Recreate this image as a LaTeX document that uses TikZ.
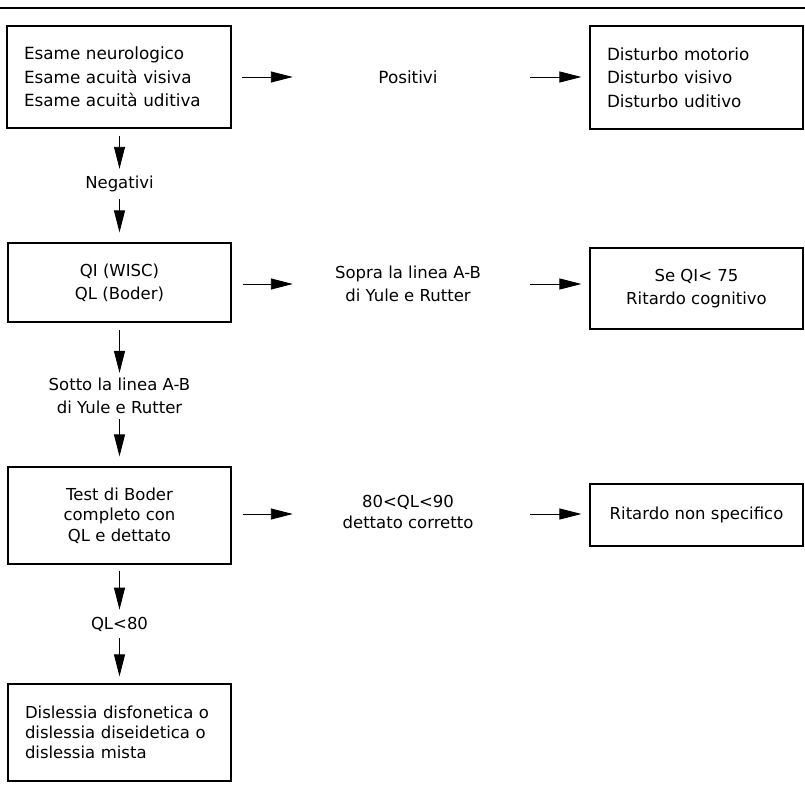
\documentclass[tikz,border=0pt]{standalone}
\usepackage{fontspec}
\setmainfont{DejaVu Sans}
\usetikzlibrary{arrows.meta}
\tikzset{
  boxa/.style={draw, line width=1.1pt, rectangle, inner ysep=0pt},
  lbl/.style={inner sep=0pt, align=center},
  arr/.style={line width=0.9pt, -{Triangle[length=22pt,width=11pt]}},
  fa/.style={font=\fontsize{16.8}{23.5}\selectfont},
  fb/.style={font=\fontsize{16.5}{23}\selectfont},
}
\begin{document}
\begin{tikzpicture}[x=1pt,y=-1pt]
\useasboundingbox (0,0) rectangle (805,791);
\draw[line width=2.6pt] (0,8) -- (805,8);
% row 1
\node[boxa, fa, minimum width=224pt, minimum height=102pt, text width=190pt, inner xsep=17pt, align=left] (b1) at (119,77)
  {Esame neurologico\\Esame acuità visiva\\Esame acuità uditiva};
\node[lbl, fa, minimum width=230pt] (pos) at (408,77) {Positivi};
\node[boxa, fa, minimum width=213pt, minimum height=103pt, text width=179pt, inner xsep=17pt, align=left] (b2) at (696.5,77.5)
  {Disturbo motorio\\Disturbo visivo\\Disturbo uditivo};
\draw[arr, shorten <=10pt] (b1.east |- pos.west) -- (pos.west);
\draw[arr, shorten <=7pt, shorten >=8pt] (pos.east) -- (b2.west |- pos.east);
% negativi
\node[lbl, fb] (neg) at (119.5,184) {Negativi};
\node[boxa, fb, minimum width=223pt, minimum height=79pt, align=center] (qi) at (119.5,282.5)
  {QI (WISC)\\QL (Boder)};
\draw[arr, shorten <=7pt, shorten >=7pt] (b1.south -| neg.north) -- (neg.north);
\draw[arr, shorten <=7pt, shorten >=10pt] (neg.south) -- (qi.north -| neg.south);
% row 2
\node[lbl, fb, minimum width=230pt] (sopra) at (408,284) {Sopra la linea A-B\\di Yule e Rutter};
\node[boxa, fb, minimum width=213pt, minimum height=81pt, align=center] (seqi) at (696.5,288.5)
  {Se QI< 75\\Ritardo cognitivo};
\draw[arr, shorten <=11pt] (qi.east |- sopra.west) -- (sopra.west);
\draw[arr, shorten <=7pt, shorten >=8pt] (sopra.east) -- (seqi.west |- sopra.east);
% sotto
\node[lbl, fb] (sotto) at (119.5,396) {Sotto la linea A-B\\di Yule e Rutter};
\node[boxa, font=\fontsize{16.5}{20.5}\selectfont, minimum width=223pt, minimum height=97pt, align=center] (test) at (119.5,515.5)
  {Test di Boder\\completo con\\QL e dettato};
\draw[arr, shorten <=7pt, shorten >=5pt] (qi.south -| sotto.north) -- (sotto.north);
\draw[arr, shorten <=5pt, shorten >=10pt] (sotto.south) -- (test.north -| sotto.south);
% row 3
\node[lbl, font=\fontsize{16.5}{21}\selectfont, minimum width=230pt] (ql90) at (408,512) {80<QL<90\\dettato corretto};
\node[boxa, fb, minimum width=213pt, minimum height=62pt, align=center] (rit) at (696.5,515) {Ritardo non specifico};
\draw[arr, shorten <=11pt] (test.east |- 0,514) -- (ql90.west |- 0,514);
\draw[arr, shorten <=7pt, shorten >=8pt] (ql90.east |- 0,514) -- (rit.west |- 0,514);
% ql<80
\node[lbl, fb] (ql80) at (119.5,624) {QL<80};
\node[boxa, font=\fontsize{16.5}{20}\selectfont, minimum width=223pt, minimum height=97pt, text width=189pt, inner xsep=17pt, align=left] (dis) at (119.5,732.5)
  {Dislessia disfonetica o\\dislessia diseidetica o\\dislessia mista};
\draw[arr, shorten <=6pt, shorten >=7pt] (test.south -| ql80.north) -- (ql80.north);
\draw[arr, shorten <=7pt, shorten >=7pt] (ql80.south) -- (dis.north -| ql80.south);
\end{tikzpicture}
\end{document}
